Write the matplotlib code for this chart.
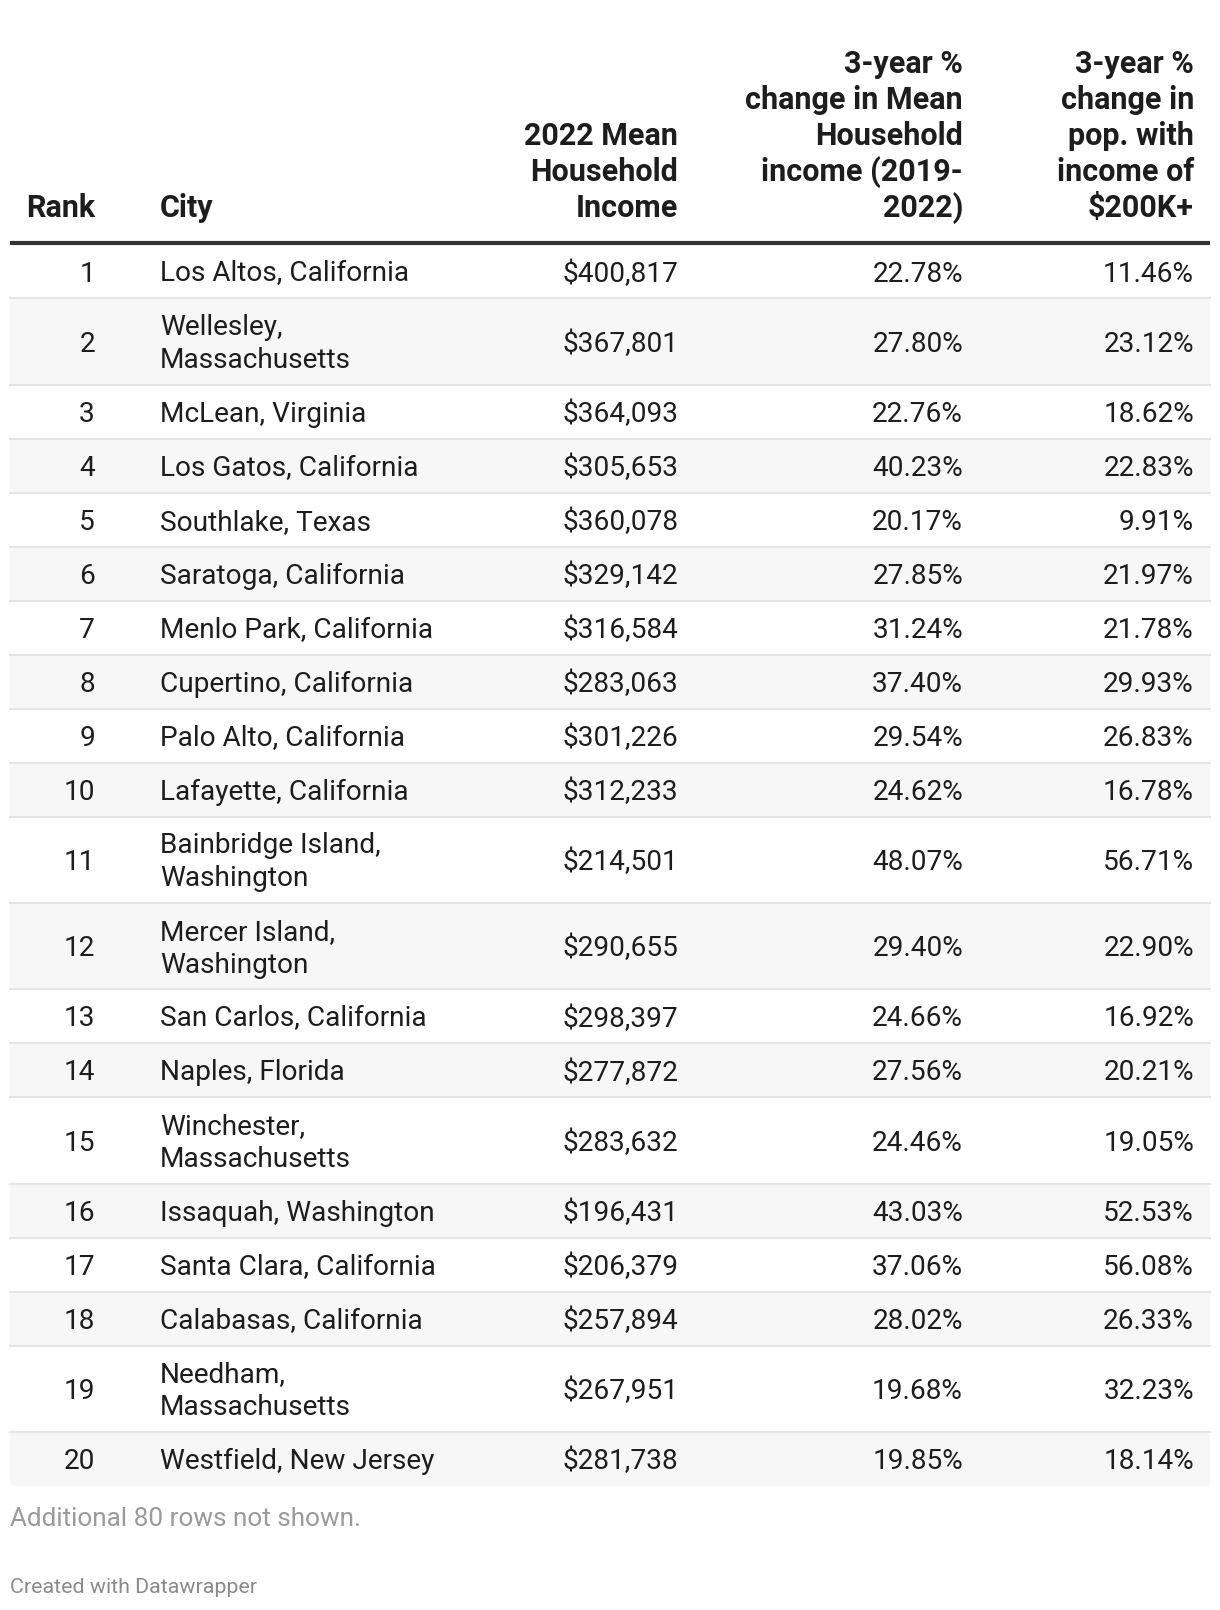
import matplotlib
matplotlib.use("Agg")
import matplotlib.pyplot as plt
from matplotlib.patches import Rectangle

plt.rcParams["font.family"] = ["Roboto", "DejaVu Sans"]

# Daten
ranks = list(range(1, 21))
cities = [
    "Los Altos, California", "Wellesley,\nMassachusetts", "McLean, Virginia",
    "Los Gatos, California", "Southlake, Texas", "Saratoga, California",
    "Menlo Park, California", "Cupertino, California", "Palo Alto, California",
    "Lafayette, California", "Bainbridge Island,\nWashington",
    "Mercer Island,\nWashington", "San Carlos, California", "Naples, Florida",
    "Winchester,\nMassachusetts", "Issaquah, Washington",
    "Santa Clara, California", "Calabasas, California",
    "Needham,\nMassachusetts", "Westfield, New Jersey",
]
income = [400817, 367801, 364093, 305653, 360078, 329142, 316584, 283063,
          301226, 312233, 214501, 290655, 298397, 277872, 283632, 196431,
          206379, 257894, 267951, 281738]
chg_income = [22.78, 27.80, 22.76, 40.23, 20.17, 27.85, 31.24, 37.40, 29.54,
              24.62, 48.07, 29.40, 24.66, 27.56, 24.46, 43.03, 37.06, 28.02,
              19.68, 19.85]
chg_pop200k = [11.46, 23.12, 18.62, 22.83, 9.91, 21.97, 21.78, 29.93, 26.83,
               16.78, 56.71, 22.90, 16.92, 20.21, 19.05, 52.53, 56.08, 26.33,
               32.23, 18.14]

headers = [
    ["Rank"],
    ["City"],
    ["2022 Mean", "Household", "Income"],
    ["3-year %", "change in Mean", "Household", "income (2019-", "2022)"],
    ["3-year %", "change in", "pop. with", "income of", "$200K+"],
]

W, H = 1220, 1610
fig = plt.figure(figsize=(W / 100, H / 100), dpi=100)
ax = fig.add_axes([0, 0, 1, 1])
ax.set_xlim(0, W)
ax.set_ylim(H, 0)
ax.axis("off")

# Spalten (x in Pixel), Ausrichtung
col_x = [95, 160, 678, 963, 1194]
col_ha = ["right", "left", "right", "right", "right"]
left, right = 10, 1210
fs = 20.2
txt = "#1d1d1d"
line_h = 33

# Kopfzeile (etwas groesser, fett)
head_bottom = 208
for x, ha, lines in zip(col_x, col_ha, headers):
    for k, s in enumerate(reversed(lines)):
        ax.text(x, head_bottom - k * 36, s, ha=ha, va="center",
                fontsize=22, fontweight="bold", color=txt)

top = 243
ax.plot([left, right], [top, top], color="#333333", lw=3, solid_capstyle="butt")

# Zeilen
y = top + 1.5
for i in range(len(ranks)):
    two = "\n" in cities[i]
    h = 86.3 if two else 54
    if i % 2 == 1:
        ax.add_patch(Rectangle((left, y), right - left, h, color="#f7f7f7", lw=0, zorder=0))
    if i < len(ranks) - 1:
        ax.plot([left, right], [y + h, y + h], color="#e5e5e5", lw=1.5, zorder=1)
    yc = y + h / 2 + 2.5
    vals = [str(ranks[i]), None, f"${income[i]:,}",
            f"{chg_income[i]:.2f}%", f"{chg_pop200k[i]:.2f}%"]
    for j, (x, ha) in enumerate(zip(col_x, col_ha)):
        if j == 1:
            parts = cities[i].split("\n")
            for k, p in enumerate(parts):
                off = (k - (len(parts) - 1) / 2) * line_h
                ax.text(x, yc + off, p, ha=ha, va="center", fontsize=fs, color=txt)
        else:
            ax.text(x, yc, vals[j], ha=ha, va="center", fontsize=fs, color=txt)
    y += h

ax.text(left, 1519, "Additional 80 rows not shown.", ha="left", va="center",
        fontsize=18.8, color="#9a9a9a")
ax.text(left, 1587, "Created with Datawrapper", ha="left", va="center",
        fontsize=15.4, color="#8a8a8a")

fig.savefig("out.png", dpi=100, facecolor="white")
